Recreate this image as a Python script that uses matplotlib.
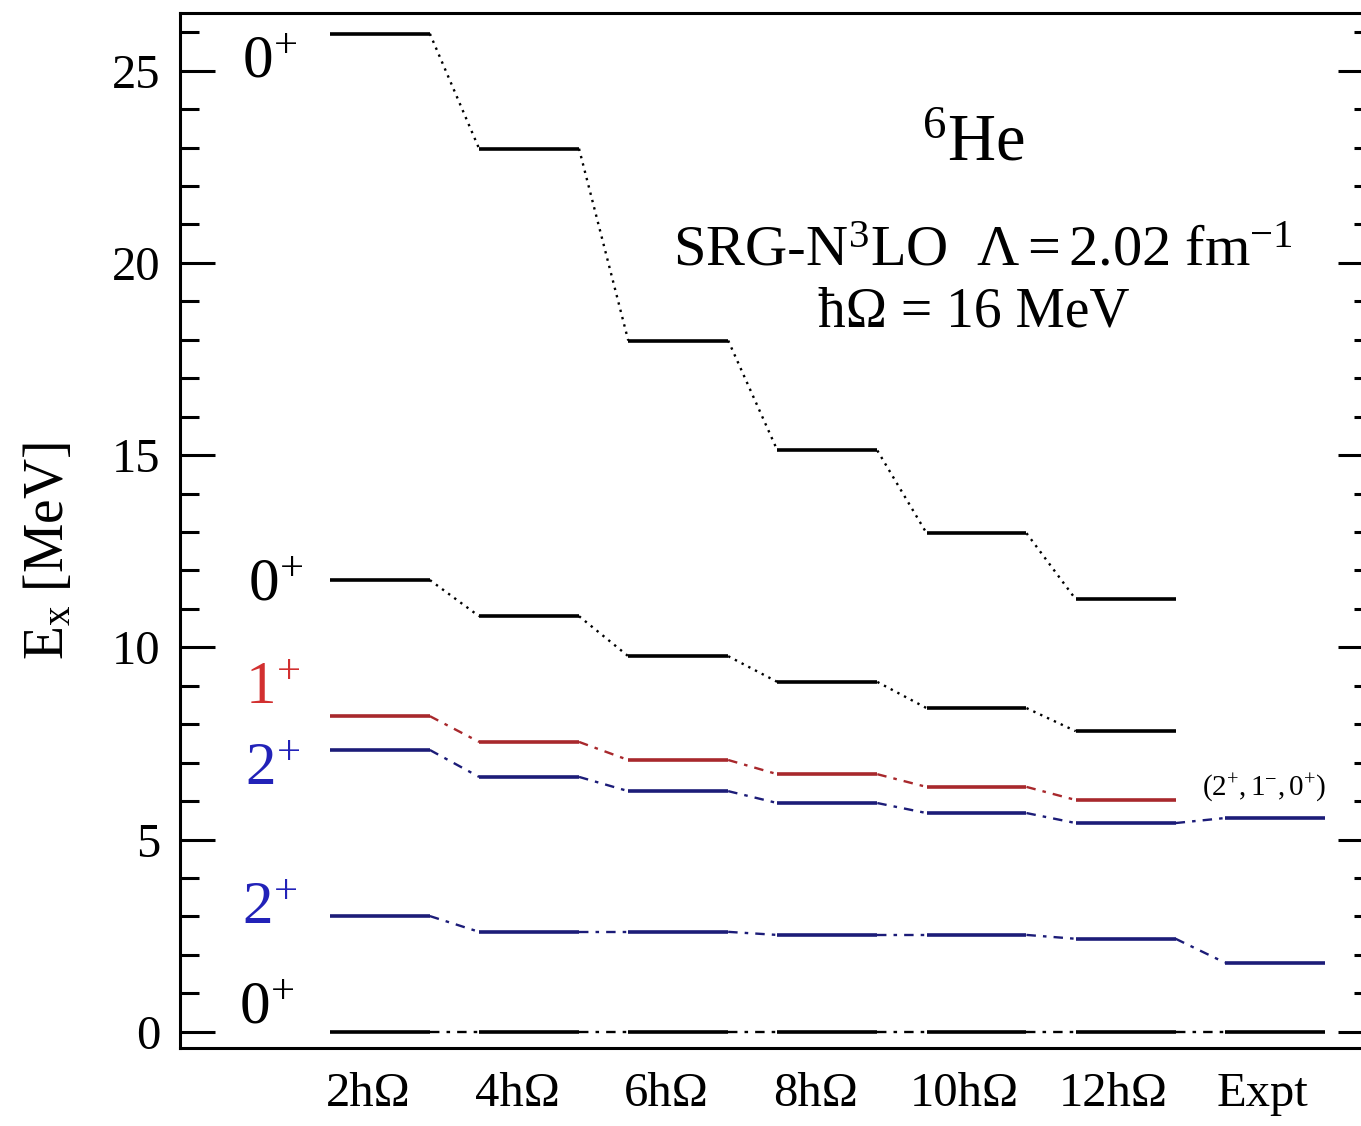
import numpy as np
import matplotlib.pyplot as plt
import matplotlib.transforms as mtransforms
from matplotlib.ticker import MultipleLocator

plt.rcParams['font.family'] = ['Liberation Serif', 'DejaVu Serif']
plt.rcParams['mathtext.fontset'] = 'stix'

# columns: model spaces and experiment
columns = ['2hΩ', '4hΩ', '6hΩ', '8hΩ', '10hΩ', '12hΩ', 'Expt']

# excitation energies (MeV) per state, one value per calculated column
e_0p_3 = [25.96, 22.97, 17.98, 15.12, 12.97, 11.25]
e_0p_2 = [11.75, 10.81, 9.77, 9.10, 8.42, 7.82]
e_1p_1 = [8.21, 7.54, 7.07, 6.70, 6.37, 6.03]
e_2p_2 = [7.33, 6.63, 6.26, 5.95, 5.69, 5.43]
e_2p_1 = [3.01, 2.60, 2.60, 2.52, 2.52, 2.42]
e_0p_1 = [0.0, 0.0, 0.0, 0.0, 0.0, 0.0]
expt_levels = [0.0, 1.80, 5.56]

black = 'black'
red = '#a8282c'
blue = '#1c1c78'
hw = 0.335

fig = plt.figure(figsize=(13.61, 11.26), dpi=100)
ax = fig.add_axes([0.1323, 0.0693, 0.8767, 0.9192])

x = np.arange(len(columns))


def draw_series(vals, color, ls, lw_conn=1.7, expt=None):
    for i, v in enumerate(vals):
        ax.plot([x[i] - hw, x[i] + hw], [v, v], color=color, lw=2.6,
                solid_capstyle='butt')
        if i < len(vals) - 1:
            ax.plot([x[i] + hw, x[i + 1] - hw], [v, vals[i + 1]],
                    color=color, lw=lw_conn, ls=ls)
    if expt is not None:
        ax.plot([x[len(vals) - 1] + hw, x[-1] - hw], [vals[-1], expt],
                color=color, lw=lw_conn, ls=ls)


dashdot = (0, (4, 3, 1.5, 3))
draw_series(e_0p_3, black, (0, (1, 2.2)))
draw_series(e_0p_2, black, (0, (1, 2.2)))
draw_series(e_1p_1, red, dashdot)
draw_series(e_2p_2, blue, dashdot, expt=expt_levels[2])
draw_series(e_2p_1, blue, dashdot, expt=expt_levels[1])
draw_series(e_0p_1, black, dashdot, expt=expt_levels[0])

for v, c in zip(expt_levels, [black, blue, blue]):
    ax.plot([x[-1] - hw, x[-1] + hw], [v, v], color=c, lw=2.6,
            solid_capstyle='butt')

# spin labels
lab_fs = 44
ax.text(-0.74, 25.2, r'$\mathregular{0^{+}}$', color=black, fontsize=lab_fs,
        ha='center', va='center')
ax.text(-0.70, 11.6, r'$\mathregular{0^{+}}$', color=black, fontsize=lab_fs,
        ha='center', va='center')
ax.text(-0.72, 8.9, r'$\mathregular{1^{+}}$', color='#d23030', fontsize=lab_fs,
        ha='center', va='center')
ax.text(-0.72, 6.8, r'$\mathregular{2^{+}}$', color='#2222b8', fontsize=lab_fs,
        ha='center', va='center')
ax.text(-0.74, 3.2, r'$\mathregular{2^{+}}$', color='#2222b8', fontsize=lab_fs,
        ha='center', va='center')
ax.text(-0.76, 0.6, r'$\mathregular{0^{+}}$', color=black, fontsize=lab_fs,
        ha='center', va='center')
ax.text(x[-1] - 0.07, 6.35, r'$\mathregular{(2^{+},1^{-},0^{+})}$',
        fontsize=21, ha='center', va='center')

# title block
ax.text(3.98, 23.1, r'$\mathregular{^{6}He}$', fontsize=48, ha='center',
        va='center')
ax.text(4.04, 20.3, r'$\mathregular{SRG\text{-}N^{3}LO\ \ \Lambda = 2.02\ fm^{-1}}$',
        fontsize=42, ha='center', va='center')
ax.text(3.98, 18.7, 'ħΩ = 16 MeV', fontsize=40, ha='center', va='center')

ax.set_xlim(-1.34, 6.66)
ax.set_ylim(-0.42, 26.5)
ax.set_xticks(x)
ax.set_xticklabels(columns, fontsize=35)
ax.tick_params(axis='x', length=0, pad=17)
shift = mtransforms.ScaledTranslation(-12 / 100, 0, fig.dpi_scale_trans)
for lab in ax.get_xticklabels():
    lab.set_transform(lab.get_transform() + shift)
ax.yaxis.set_major_locator(MultipleLocator(5))
ax.yaxis.set_minor_locator(MultipleLocator(1))
ax.tick_params(axis='y', which='major', direction='in', length=25, width=2.2,
               right=True, labelsize=35, pad=14)
ax.tick_params(axis='y', which='minor', direction='in', length=14, width=2.2,
               right=True)
ax.set_ylabel(r'$\mathregular{E_{x}}$ [MeV]', fontsize=40)
ax.yaxis.set_label_coords(-0.088, 0.48)
for s in ax.spines.values():
    s.set_linewidth(2.2)

fig.savefig('out.png', dpi=100)
